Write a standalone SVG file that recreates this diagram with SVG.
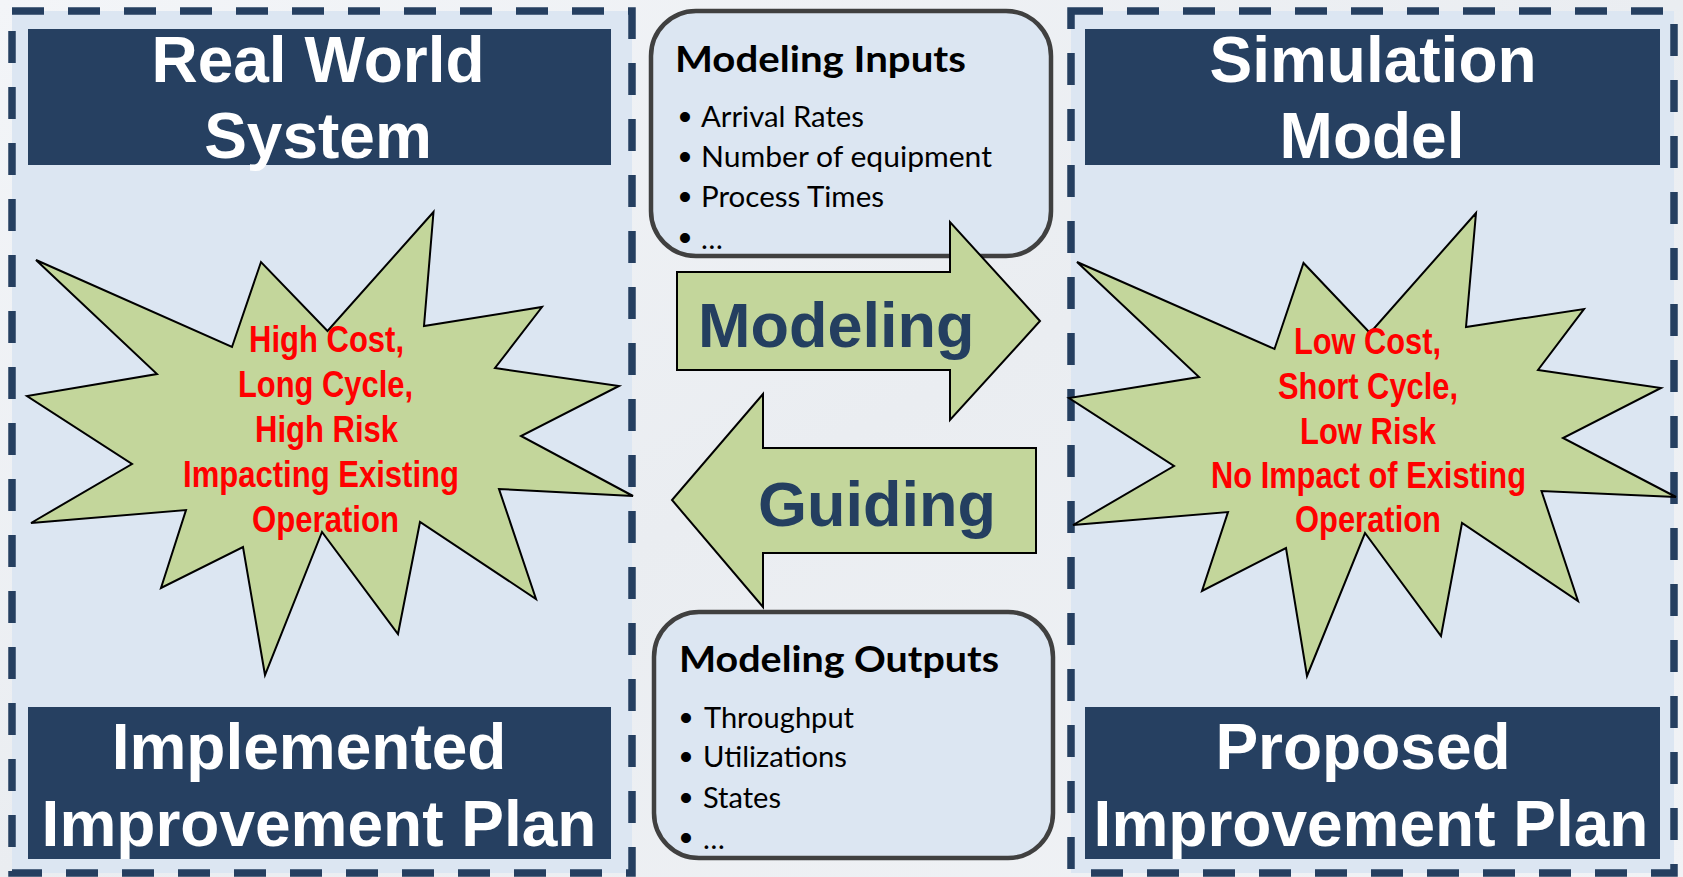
<svg xmlns="http://www.w3.org/2000/svg" width="1683" height="877" viewBox="0 0 1683 877">
  <defs>
    <linearGradient id="bgGrad" x1="0" y1="0" x2="1" y2="1">
      <stop offset="0" stop-color="#f3f5f8"/>
      <stop offset="0.5" stop-color="#eaedf1"/>
      <stop offset="1" stop-color="#f1f3f6"/>
    </linearGradient>
    <style>
      .panel { fill: #dce6f2; stroke: #253f60; stroke-width: 7.5; stroke-dasharray: 32 24; }
      .title-box { fill: #264061; }
      .title { font-family: "Liberation Sans", Arial, sans-serif; font-weight: bold; font-size: 64px; fill: #ffffff; text-anchor: middle; }
      .burst { fill: #c3d69b; stroke: #000000; stroke-width: 2; stroke-linejoin: miter; }
      .burst-text { font-family: "Liberation Sans", Arial, sans-serif; font-weight: bold; font-size: 37px; fill: #ff0000; }
      .list-box { fill: #dce6f2; stroke: #404040; stroke-width: 4.5; }
      .list-head { font-family: Lato, "Noto Sans", sans-serif; font-weight: bold; font-size: 37px; fill: #000000; }
      .list-item { font-family: Lato, "Noto Sans", sans-serif; font-size: 29px; fill: #000000; }
      .bullet { font-family: "Liberation Sans", Arial, sans-serif; font-size: 37px; fill: #000000; text-anchor: middle; }
      .arrow { fill: #c3d69b; stroke: #000000; stroke-width: 2; }
      .arrow-label { font-family: "Liberation Sans", Arial, sans-serif; font-weight: bold; font-size: 63px; fill: #243f60; }
    </style>
  </defs>

  <!-- backdrop -->
  <rect x="0" y="0" width="1683" height="877" fill="url(#bgGrad)"/>

  <!-- left column: real world -->
  <g id="real-world">
    <rect class="panel" x="12" y="11" width="620" height="862"/>
    <rect class="title-box" x="28" y="29" width="583" height="136"/>
    <text class="title" x="318" y="82">Real World</text>
    <text class="title" x="318" y="158">System</text>
  </g>

  <!-- right column: simulation -->
  <g id="simulation-model">
    <rect class="panel" x="1071" y="11" width="603" height="862"/>
    <rect class="title-box" x="1085" y="29" width="575" height="136"/>
    <text class="title" x="1373" y="82">Simulation</text>
    <text class="title" x="1372" y="158">Model</text>
  </g>

  <g id="implemented-plan">
    <rect class="title-box" x="28" y="707" width="583" height="152"/>
    <text class="title" x="309" y="769">Implemented</text>
    <text class="title" x="319" y="846">Improvement Plan</text>
  </g>

  <g id="proposed-plan">
    <rect class="title-box" x="1085" y="707" width="575" height="152"/>
    <text class="title" x="1363" y="769">Proposed</text>
    <text class="title" x="1371" y="846">Improvement Plan</text>
  </g>

  <!-- starbursts -->
  <g id="real-world-burst">
    <polygon class="burst" points="433.5,212 424,326 542,307 495,368 619,386 521,436 633,496 499,489 536,599 420,522 398,634 322,532 265,675 243,547 161,588 186,510 31,523 132,464 27,396 157,374 36,260 232,347 261,262 327.5,331"/>
    <text class="burst-text" x="249" y="352" textLength="155" lengthAdjust="spacingAndGlyphs">High Cost,</text>
    <text class="burst-text" x="238" y="397" textLength="175" lengthAdjust="spacingAndGlyphs">Long Cycle,</text>
    <text class="burst-text" x="255" y="442" textLength="143" lengthAdjust="spacingAndGlyphs">High Risk</text>
    <text class="burst-text" x="183" y="487" textLength="276" lengthAdjust="spacingAndGlyphs">Impacting Existing</text>
    <text class="burst-text" x="252" y="532" textLength="147" lengthAdjust="spacingAndGlyphs">Operation</text>
  </g>

  <g id="simulation-burst">
    <polygon class="burst" points="1476,213 1466,327 1584,309 1538,370 1661,388 1563,438 1676,497 1541.5,491 1578,601 1462,523 1441,636 1365,533 1307,676 1286,548 1202,591 1228,512 1073,525 1174,466 1069,398 1199,377 1077,262 1274.5,349 1303.5,263 1370,333"/>
    <text class="burst-text" x="1294" y="354" textLength="147" lengthAdjust="spacingAndGlyphs">Low Cost,</text>
    <text class="burst-text" x="1278" y="399" textLength="180" lengthAdjust="spacingAndGlyphs">Short Cycle,</text>
    <text class="burst-text" x="1300" y="444" textLength="136" lengthAdjust="spacingAndGlyphs">Low Risk</text>
    <text class="burst-text" x="1211" y="488" textLength="315" lengthAdjust="spacingAndGlyphs">No Impact of Existing</text>
    <text class="burst-text" x="1295" y="532" textLength="146" lengthAdjust="spacingAndGlyphs">Operation</text>
  </g>

  <!-- input / output lists -->
  <g id="modeling-inputs">
    <rect class="list-box" x="651" y="11" width="400" height="245" rx="45" ry="45"/>
    <text class="list-head" x="675" y="72" textLength="291" lengthAdjust="spacingAndGlyphs">Modeling Inputs</text>
    <text class="bullet" x="685" y="129">•</text>
    <text class="list-item" x="701" y="127" textLength="163" lengthAdjust="spacingAndGlyphs">Arrival Rates</text>
    <text class="bullet" x="685" y="169">•</text>
    <text class="list-item" x="701" y="167" textLength="291" lengthAdjust="spacingAndGlyphs">Number of equipment</text>
    <text class="bullet" x="685" y="209">•</text>
    <text class="list-item" x="701" y="207" textLength="183" lengthAdjust="spacingAndGlyphs">Process Times</text>
    <text class="bullet" x="685" y="250">•</text>
    <text class="list-item" x="701" y="249">…</text>
  </g>

  <g id="modeling-outputs">
    <rect class="list-box" x="654" y="612" width="399" height="246" rx="45" ry="45"/>
    <text class="list-head" x="679" y="672" textLength="320" lengthAdjust="spacingAndGlyphs">Modeling Outputs</text>
    <text class="bullet" x="686" y="730">•</text>
    <text class="list-item" x="704" y="728" textLength="150" lengthAdjust="spacingAndGlyphs">Throughput</text>
    <text class="bullet" x="686" y="769">•</text>
    <text class="list-item" x="703" y="767" textLength="144" lengthAdjust="spacingAndGlyphs">Utilizations</text>
    <text class="bullet" x="686" y="810">•</text>
    <text class="list-item" x="703" y="808" textLength="78" lengthAdjust="spacingAndGlyphs">States</text>
    <text class="bullet" x="686" y="850">•</text>
    <text class="list-item" x="703" y="849">…</text>
  </g>

  <!-- block arrows between the two columns -->
  <g id="connectors">
    <g id="modeling-arrow">
      <path class="arrow" d="M677,272 H950 V222 L1040,321 L950,420 V370 H677 Z"/>
      <text class="arrow-label" x="698" y="347">Modeling</text>
    </g>
    <g id="guiding-arrow">
      <path class="arrow" d="M1036,448 H763 V394 L672,500 L763,607 V553 H1036 Z"/>
      <text class="arrow-label" x="758" y="526">Guiding</text>
    </g>
  </g>
</svg>
